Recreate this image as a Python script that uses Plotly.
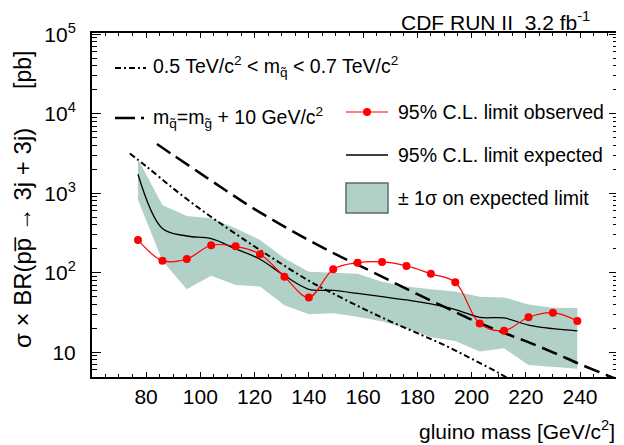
import plotly.graph_objects as go

# ---------------- data ----------------
mass = [77, 86, 95, 104, 113, 122, 131, 140, 149, 158, 167, 176, 185, 194, 203, 212, 221, 230, 239]
observed = [259, 142, 149, 222, 215, 171, 89, 49, 111, 134, 137, 122, 97, 76, 23, 18.7, 27.6, 31.5, 24.8]
expected = [1735, 360, 290, 268, 200, 148, 92, 62, 60, 55, 50, 45.5, 40.5, 34.5, 27.5, 27, 22, 19.8, 18.6]
band_up = [2700, 713, 518, 485, 363, 259, 152, 103, 100, 97, 77, 67, 62, 58, 50, 49, 40, 36.4, 36]
band_lo = [824, 142, 62, 92, 70, 67, 39, 30, 31, 28, 24.3, 20, 15.5, 13.9, 10.2, 11.2, 6.9, 6.5, 6.2]

th1_mass = [74, 80, 90, 100, 110, 120, 130, 140, 150, 160, 170, 180, 190, 200, 210, 216]
th1_xsec = [3160, 2190, 1150, 631, 363, 214, 129, 79.4, 52.5, 35.5, 24.5, 17.4, 12.3, 8.3, 5.5, 4.2]

th2_mass = [84, 90, 100, 110, 120, 130, 140, 150, 160, 170, 180, 190, 200, 210, 220, 230, 240, 250, 256]
th2_xsec = [4170, 3020, 1780, 1050, 631, 398, 257, 170, 117, 79.4, 53.7, 37.2, 25.7, 18.6, 13.8, 10.0, 7.08, 5.13, 4.27]

x_ticks = [80, 100, 120, 140, 160, 180, 200, 220, 240]
y_ticks = [10, 100, 1000, 10000, 100000]
y_ticktext = ["10", "10<sup>2</sup>", "10<sup>3</sup>", "10<sup>4</sup>", "10<sup>5</sup>"]

# ---------------- style ----------------
FONT = "Liberation Sans"
BAND = "#b1d1c8"
RED = "#ff0000"
DASHDOT = "6px,3px,2px,3px"
LONGDASH = "16px,7px"

# the page body has an 8px margin: the figure starts at window (8, 8)
OFF = 8
W, H = 624 - OFF, 445 - OFF
# plot frame in window pixels: left 92, right 618, top 33, bottom 377
L, R, T, B = 92 - OFF, W - (618 - OFF), 33 - OFF, H - (377 - OFF)
PW, PH = 618 - 92, 377 - 33


def px(xp):
    return (xp - 92) / PW


def py(yp):
    return (377 - yp) / PH


fig = go.Figure()

fig.add_trace(go.Scatter(x=mass, y=band_lo, mode="lines", line=dict(width=0, color=BAND),
                         showlegend=False, hoverinfo="skip"))
fig.add_trace(go.Scatter(x=mass, y=band_up, mode="lines", line=dict(width=0, color=BAND),
                         fill="tonexty", fillcolor=BAND, showlegend=False))
fig.add_trace(go.Scatter(x=th1_mass, y=th1_xsec, mode="lines",
                         line=dict(color="black", width=2, dash=DASHDOT, shape="spline"),
                         showlegend=False))
fig.add_trace(go.Scatter(x=th2_mass, y=th2_xsec, mode="lines",
                         line=dict(color="black", width=2.5, dash=LONGDASH, shape="spline"),
                         showlegend=False))
fig.add_trace(go.Scatter(x=mass, y=expected, mode="lines",
                         line=dict(color="black", width=1.3, shape="spline", smoothing=1),
                         showlegend=False))
fig.add_trace(go.Scatter(x=mass, y=observed, mode="lines+markers",
                         line=dict(color=RED, width=1.2, shape="spline", smoothing=1),
                         marker=dict(color=RED, size=8),
                         showlegend=False))

# ---------------- hand-made legend ----------------
shapes = []
annotations = []

# left legend
shapes.append(dict(type="line", xref="paper", yref="paper", x0=px(115), x1=px(146), y0=py(68), y1=py(68),
                   line=dict(color="black", width=2, dash=DASHDOT)))
shapes.append(dict(type="line", xref="paper", yref="paper", x0=px(115), x1=px(146), y0=py(118), y1=py(118),
                   line=dict(color="black", width=2.5, dash="20px,6px,3px,20px")))
annotations.append(dict(xref="paper", yref="paper", x=px(151), y=py(67), xanchor="left", yanchor="middle",
                        showarrow=False,
                        text="0.5 TeV/c<sup>2</sup> &lt; m<sub>q\u0303</sub> &lt; 0.7 TeV/c<sup>2</sup>"))
annotations.append(dict(xref="paper", yref="paper", x=px(151), y=py(117), xanchor="left", yanchor="middle",
                        showarrow=False,
                        text="m<sub>q\u0303</sub>=m<sub>g\u0303</sub> + 10 GeV/c<sup>2</sup>"))

# right legend
shapes.append(dict(type="line", xref="paper", yref="paper", x0=px(346), x1=px(388), y0=py(112), y1=py(112),
                   line=dict(color=RED, width=1.2)))
shapes.append(dict(type="circle", xref="paper", yref="paper", xsizemode="pixel", ysizemode="pixel",
                   xanchor=px(367), yanchor=py(112), x0=-4, x1=4, y0=-4, y1=4,
                   fillcolor=RED, line=dict(color=RED, width=0)))
shapes.append(dict(type="line", xref="paper", yref="paper", x0=px(346), x1=px(388), y0=py(155), y1=py(155),
                   line=dict(color="black", width=1.3)))
shapes.append(dict(type="rect", xref="paper", yref="paper", x0=px(346), x1=px(388), y0=py(213), y1=py(183),
                   fillcolor=BAND, line=dict(color="#5d6b67", width=1.5)))
annotations.append(dict(xref="paper", yref="paper", x=px(396), y=py(112), xanchor="left", yanchor="middle",
                        showarrow=False, text="95% C.L. limit observed"))
annotations.append(dict(xref="paper", yref="paper", x=px(396), y=py(155), xanchor="left", yanchor="middle",
                        showarrow=False, text="95% C.L. limit expected"))
annotations.append(dict(xref="paper", yref="paper", x=px(396), y=py(198), xanchor="left", yanchor="middle",
                        showarrow=False, text="\u00b1 1\u03c3 on expected limit"))

# titles
annotations.append(dict(xref="paper", yref="paper", x=px(592), y=py(20.5), xanchor="right", yanchor="middle",
                        showarrow=False, font=dict(size=21), text="CDF RUN II  3.2 fb<sup>-1</sup>"))
annotations.append(dict(xref="paper", yref="paper", x=px(617), y=py(430), xanchor="right", yanchor="middle",
                        showarrow=False, font=dict(size=21), text="gluino mass [GeV/c<sup>2</sup>]"))
annotations.append(dict(xref="paper", yref="paper", x=px(23), y=py(238), xanchor="center", yanchor="middle",
                        textangle=-90, showarrow=False, font=dict(size=24),
                        text="\u03c3 \u00d7 BR(pp\u0305 \u2192 3j + 3j)"))
annotations.append(dict(xref="paper", yref="paper", x=px(23), y=py(70), xanchor="center", yanchor="middle",
                        textangle=-90, showarrow=False, font=dict(size=23), text="[pb]"))

minor_y = [m * 10 ** k for k in range(0, 6) for m in range(2, 10)]

fig.update_layout(
    width=W, height=H,
    margin=dict(l=L, r=R, t=T, b=B, pad=0, autoexpand=False),
    paper_bgcolor="white", plot_bgcolor="white",
    font=dict(family=FONT, size=19.5, color="black"),
    shapes=shapes, annotations=annotations,
    showlegend=False,
)
fig.update_xaxes(
    range=[60.05, 254], tickvals=x_ticks, ticks="inside", ticklen=5, tickwidth=1, tickcolor="black",
    showline=True, linecolor="black", linewidth=2, mirror="allticks", showgrid=False, zeroline=False,
    tickfont=dict(size=21), ticklabelstandoff=0, automargin=False,
    minor=dict(dtick=5, tick0=60, ticks="inside", ticklen=3, tickcolor="black", showgrid=False),
)
fig.update_yaxes(
    type="log", range=[0.689, 5.016], tickvals=y_ticks, ticktext=y_ticktext,
    ticks="inside", ticklen=9, tickwidth=1, tickcolor="black",
    showline=True, linecolor="black", linewidth=2, mirror="allticks", showgrid=False, zeroline=False,
    tickfont=dict(size=21), ticklabelstandoff=10, automargin=False,
    minor=dict(tickvals=minor_y, ticks="inside", ticklen=5, tickcolor="black", showgrid=False),
)

fig.write_html("out.html")
